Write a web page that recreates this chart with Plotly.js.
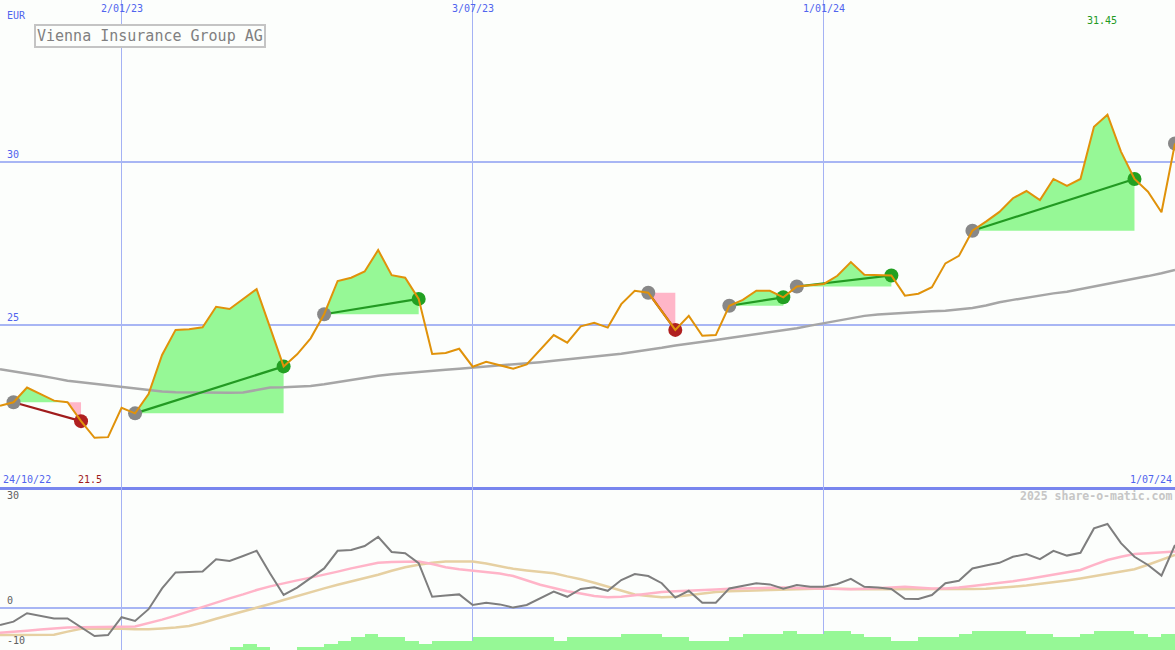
<!DOCTYPE html>
<html><head><meta charset="utf-8">
<script src="https://cdn.plot.ly/plotly-3.0.1.min.js"></script>
<style>html,body{margin:0;padding:0;background:#fcfefc;overflow:hidden}#chart{width:1175px;height:650px}</style>
</head><body><div id="chart"></div>
<script>
const weeks = ['2022-10-31','2022-11-07','2022-11-14','2022-11-21','2022-11-28','2022-12-05','2022-12-12','2022-12-19','2022-12-26','2023-01-02',
'2023-01-09','2023-01-16','2023-01-23','2023-01-30','2023-02-06','2023-02-13','2023-02-20','2023-02-27','2023-03-06','2023-03-13',
'2023-03-20','2023-03-27','2023-04-03','2023-04-10','2023-04-17','2023-04-24','2023-05-01','2023-05-08','2023-05-15','2023-05-22',
'2023-05-29','2023-06-05','2023-06-12','2023-06-19','2023-06-26','2023-07-03','2023-07-10','2023-07-17','2023-07-24','2023-07-31',
'2023-08-07','2023-08-14','2023-08-21','2023-08-28','2023-09-04','2023-09-11','2023-09-18','2023-09-25','2023-10-02','2023-10-09',
'2023-10-16','2023-10-23','2023-10-30','2023-11-06','2023-11-13','2023-11-20','2023-11-27','2023-12-04','2023-12-11','2023-12-18',
'2023-12-25','2024-01-01','2024-01-08','2024-01-15','2024-01-22','2024-01-29','2024-02-05','2024-02-12','2024-02-19','2024-02-26',
'2024-03-04','2024-03-11','2024-03-18','2024-03-25','2024-04-01','2024-04-08','2024-04-15','2024-04-22','2024-04-29','2024-05-06',
'2024-05-13','2024-05-20','2024-05-27','2024-06-03','2024-06-10','2024-06-17','2024-06-24','2024-07-01'];

const price = [22.52,22.63,23.08,22.88,22.68,22.63,22.05,21.54,21.56,22.46,
22.29,22.88,24.08,24.85,24.87,24.93,25.56,25.49,25.79,26.10,
24.92,23.73,24.10,24.59,25.33,26.35,26.45,26.64,27.30,26.53,
26.45,25.80,24.11,24.14,24.27,23.72,23.87,23.77,23.66,23.79,
24.23,24.69,24.46,24.96,25.07,24.92,25.64,26.05,25.99,25.42,
24.85,25.28,24.67,24.69,25.59,25.77,26.05,26.05,25.85,26.18,
26.22,26.26,26.51,26.93,26.54,26.54,26.52,25.90,25.96,26.16,
26.89,27.12,27.89,28.17,28.47,28.89,29.11,28.83,29.48,29.27,
29.48,31.08,31.45,30.32,29.48,29.09,28.46,30.57];

const movingAvg = [23.64,23.58,23.50,23.44,23.37,23.29,23.24,23.19,23.14,23.10,
23.05,22.99,22.96,22.94,22.93,22.92,22.92,22.92,22.93,23.00,
23.08,23.09,23.10,23.13,23.18,23.25,23.32,23.39,23.44,23.49,
23.53,23.57,23.60,23.63,23.66,23.69,23.72,23.76,23.79,23.83,
23.86,23.90,23.94,23.98,24.02,24.07,24.12,24.18,24.23,24.30,
24.37,24.42,24.48,24.54,24.60,24.66,24.71,24.76,24.82,24.90,
24.98,25.05,25.13,25.21,25.28,25.32,25.35,25.38,25.41,25.42,
25.44,25.47,25.52,25.60,25.70,25.77,25.84,25.91,25.97,26.02,
26.10,26.17,26.24,26.33,26.42,26.50,26.59,26.69];

const momentum = [-4.25,-3.4,-1.3,-2.0,-2.6,-2.6,-4.7,-7.0,-6.75,-2.3,
-3.25,-0.3,4.9,8.9,9.0,9.1,12.2,11.75,13.0,14.3,
8.6,3.25,5.1,7.5,9.9,14.3,14.5,15.5,17.8,14.0,
13.7,11.2,2.8,3.1,3.4,0.75,1.3,0.9,0.1,0.75,
2.4,4.1,2.8,4.75,5.2,4.3,7.0,8.5,8.0,6.2,
2.6,4.3,1.3,1.3,4.9,5.5,6.2,5.9,4.8,5.75,
5.3,5.3,6.0,7.3,5.3,5.1,4.75,2.3,2.25,3.25,
6.2,6.8,9.9,10.6,11.3,12.8,13.5,12.2,14.3,13.1,
13.8,19.9,21.0,16.2,12.8,10.75,8.1,15.75];

const signalPink = [-6.2,-6.0,-5.7,-5.4,-5.1,-4.9,-4.8,-4.8,-4.8,-4.7,
-4.6,-3.8,-2.9,-1.9,-0.8,0.3,1.4,2.4,3.4,4.5,
5.4,6.2,6.9,7.6,8.3,9.1,9.9,10.6,11.3,11.5,
11.6,11.6,11.0,10.2,9.7,9.3,9.0,8.6,8.0,6.9,
5.8,5.0,4.2,3.6,3.0,2.7,2.8,3.2,3.6,4.0,
4.2,4.3,4.5,4.6,4.8,4.9,5.0,5.1,5.1,5.0,
4.9,4.9,4.8,4.7,4.8,4.9,5.1,5.3,5.1,4.9,
4.9,5.1,5.5,5.9,6.2,6.7,7.2,7.8,8.3,8.9,
9.5,10.8,12.0,12.8,13.5,13.7,13.9,14.1];

const signalTan = [-6.75,-6.75,-6.75,-6.75,-6.7,-5.9,-5.2,-5.1,-5.1,-5.2,
-5.3,-5.3,-5.1,-4.9,-4.5,-3.7,-2.7,-1.8,-0.9,0.0,
1.0,2.0,3.0,4.0,4.9,5.8,6.6,7.4,8.3,9.3,
10.2,10.8,11.3,11.6,11.6,11.6,11.1,10.5,9.8,9.4,
9.0,8.7,7.9,7.2,6.3,5.3,4.3,3.4,3.0,2.7,
2.8,3.2,3.7,4.0,4.2,4.3,4.4,4.5,4.6,4.7,
4.8,4.9,4.8,4.7,4.7,4.7,4.7,4.6,4.6,4.7,
4.75,4.75,4.75,4.8,5.0,5.3,5.6,6.0,6.4,6.9,
7.4,8.0,8.5,9.1,9.7,10.8,12.0,13.25];

const volumeLevel = [0,0,0,0,0,0,0,0,0,0,
0,0,0,0,0,0,0,1,2,1,
0,0,1,1,2,3,4,5,4,4,
3,2,3,3,3,4,4,4,4,4,
4,3,4,4,4,4,5,5,5,4,
4,3,3,3,4,5,5,5,6,5,
5,6,6,5,4,4,3,3,4,4,
4,5,6,6,6,6,5,5,4,4,
5,6,6,6,5,4,5,0];

const signalStart = [1,10,24,48,54,59,72];
const signalEnd = [6,21,31,50,58,66,84];
const openSignal = [87];

const tickDates = ['2023-01-02','2023-07-03','2024-01-01'];
const tickLabels = ['2/01/23','3/07/23','1/01/24'];
const priceTicks = [25,30];
const oscTicks = [30,0,-10];
const currency = 'EUR';
const chartTitle = 'Vienna Insurance Group AG';
const startLabel = '24/10/22';
const endLabel = '1/07/24';
const credit = '2025 share-o-matic.com';

const W = 1175, H = 650, splitPx = 487;
const oscFrac = (H - splitPx) / H;
const MONO = '"DejaVu Sans Mono", "Liberation Mono", monospace';
const BLUE = '#5064ee';
const GREENFILL = '#96f896', PINKFILL = '#ffb6c8';
const traces = [];

// signal fills
signalStart.forEach((s, k) => {
  const e = signalEnd[k];
  const xs = weeks.slice(s, e + 1);
  const seg = price.slice(s, e + 1);
  const base = price[s];
  const baseY = seg.map(() => base);
  const up = seg.map(v => Math.max(v, base));
  const dn = seg.map(v => Math.min(v, base));
  if (seg.some(v => v > base)) {
    traces.push({x: xs, y: baseY, mode: 'lines', line: {width: 0}, hoverinfo: 'skip'});
    traces.push({x: xs, y: up, mode: 'lines', line: {width: 0}, fill: 'tonexty', fillcolor: GREENFILL, hoverinfo: 'skip'});
  }
  if (seg.some(v => v < base)) {
    traces.push({x: xs, y: baseY, mode: 'lines', line: {width: 0}, hoverinfo: 'skip'});
    traces.push({x: xs, y: dn, mode: 'lines', line: {width: 0}, fill: 'tonexty', fillcolor: PINKFILL, hoverinfo: 'skip'});
  }
});

// moving average
traces.push({x: weeks, y: movingAvg, mode: 'lines', line: {color: '#a6a6a6', width: 2.5}});

// trend lines
signalStart.forEach((s, k) => {
  const e = signalEnd[k];
  const gain = price[e] >= price[s];
  traces.push({x: [weeks[s], weeks[e]], y: [price[s], price[e]], mode: 'lines',
    line: {color: gain ? '#229a22' : '#a01c1c', width: 2.2}});
});

// start markers
const startIdx = signalStart.concat(openSignal);
traces.push({x: startIdx.map(i => weeks[i]), y: startIdx.map(i => price[i]), mode: 'markers',
  marker: {color: '#888888', size: 14}});
// end markers
traces.push({x: signalEnd.map(i => weeks[i]), y: signalEnd.map(i => price[i]), mode: 'markers',
  marker: {color: signalEnd.map((e, k) => price[e] >= price[signalStart[k]] ? '#22a022' : '#b02020'), size: 14}});

// price
traces.push({x: weeks, y: price, mode: 'lines', line: {color: '#e0920a', width: 2}});

// oscillator panel
traces.push({x: weeks, y: signalTan, xaxis: 'x2', yaxis: 'y2', mode: 'lines', line: {color: '#e6d0a2', width: 2.5}});
traces.push({x: weeks, y: signalPink, xaxis: 'x2', yaxis: 'y2', mode: 'lines', line: {color: '#ffb4c8', width: 2.5}});
traces.push({x: weeks, y: momentum, xaxis: 'x2', yaxis: 'y2', mode: 'lines', line: {color: '#7e7e7e', width: 2}});
traces.push({x: weeks, y: volumeLevel, xaxis: 'x2', yaxis: 'y3', type: 'bar',
  width: 7 * 86400000, offset: 0, marker: {color: GREENFILL, line: {width: 0}}, hoverinfo: 'skip'});

const imax = price.indexOf(Math.max(...price));
const imin = price.indexOf(Math.min(...price));
const fx = px => px / W, fy = py => 1 - py / H;
const ann = [];
const txt = (o) => Object.assign({showarrow: false, borderpad: 1}, o);
ann.push(txt({text: currency, xref: 'paper', yref: 'paper', x: fx(5), y: fy(16), xanchor: 'left', yanchor: 'middle', font: {family: MONO, size: 10, color: BLUE}}));
ann.push(txt({text: chartTitle, xref: 'paper', yref: 'paper', x: fx(150), y: fy(36.5), xanchor: 'center', yanchor: 'middle',
  font: {family: MONO, size: 15, color: '#808080'}, bordercolor: '#c4c4c4', borderwidth: 2, borderpad: 1, bgcolor: '#fcfefc'}));
tickDates.forEach((d, i) => ann.push(txt({text: tickLabels[i], xref: 'x', yref: 'paper', x: d, y: fy(8), xanchor: 'center', yanchor: 'middle',
  font: {family: MONO, size: 10, color: BLUE}})));
ann.push(txt({text: price[imax].toFixed(2), xref: 'x', yref: 'paper', x: weeks[imax], xshift: -5, y: fy(21), xanchor: 'center', yanchor: 'middle',
  font: {family: MONO, size: 10, color: '#229a22'}}));
ann.push(txt({text: price[imin].toFixed(1), xref: 'x', yref: 'paper', x: weeks[imin], xshift: -5, y: fy(479), xanchor: 'center', yanchor: 'middle',
  font: {family: MONO, size: 10, color: '#a01c1c'}}));
ann.push(txt({text: startLabel, xref: 'paper', yref: 'paper', x: fx(1), y: fy(479), xanchor: 'left', yanchor: 'middle',
  font: {family: MONO, size: 10, color: BLUE}}));
ann.push(txt({text: endLabel, xref: 'paper', yref: 'paper', x: fx(1174), y: fy(479), xanchor: 'right', yanchor: 'middle',
  font: {family: MONO, size: 10, color: BLUE}}));
ann.push(txt({text: '<b>' + credit + '</b>', xref: 'paper', yref: 'paper', x: fx(1174), y: fy(496), xanchor: 'right', yanchor: 'middle',
  font: {family: MONO, size: 11.5, color: '#c6c6c6'}}));
priceTicks.forEach(v => ann.push(txt({text: String(v), xref: 'paper', yref: 'y', x: fx(5), y: v, xanchor: 'left', yanchor: 'bottom',
  font: {family: MONO, size: 10, color: BLUE}})));
oscTicks.forEach(v => ann.push(txt({text: String(v), xref: 'paper', yref: 'y2', x: fx(5), y: v, xanchor: 'left', yanchor: v === 30 ? 'top' : 'bottom',
  font: {family: MONO, size: 10, color: '#606060'}})));

const gridX = {type: 'date', range: [weeks[0], weeks[weeks.length - 1]], tickvals: tickDates, showticklabels: false, ticks: '',
  showgrid: true, gridcolor: '#a4b2f4', gridwidth: 1, zeroline: false, fixedrange: true};
const layout = {
  width: W, height: H, margin: {l: 0, r: 0, t: 0, b: 0, pad: 0},
  paper_bgcolor: '#fcfefc', plot_bgcolor: '#fcfefc', showlegend: false, bargap: 0,
  xaxis: Object.assign({}, gridX, {anchor: 'y', domain: [0, 1], showline: true, linecolor: '#7886ee', linewidth: 2.5}),
  yaxis: {domain: [oscFrac, 1], range: [20.03, 34.97], tickvals: priceTicks, showticklabels: false, ticks: '',
    showgrid: true, gridcolor: '#a8b6f4', gridwidth: 2, zeroline: false, fixedrange: true},
  xaxis2: Object.assign({}, gridX, {anchor: 'y2', domain: [0, 1], showline: false}),
  yaxis2: {domain: [0, oscFrac], range: [-10.5, 30.25], tickvals: [0], showticklabels: false, ticks: '',
    showgrid: true, gridcolor: '#a8b6f4', gridwidth: 2, zeroline: false, fixedrange: true},
  yaxis3: {overlaying: 'y2', anchor: 'x2', range: [0, 51.7], visible: false, showgrid: false, fixedrange: true},
  annotations: ann
};
Plotly.newPlot('chart', traces, layout, {displayModeBar: false, staticPlot: true});
</script></body></html>
